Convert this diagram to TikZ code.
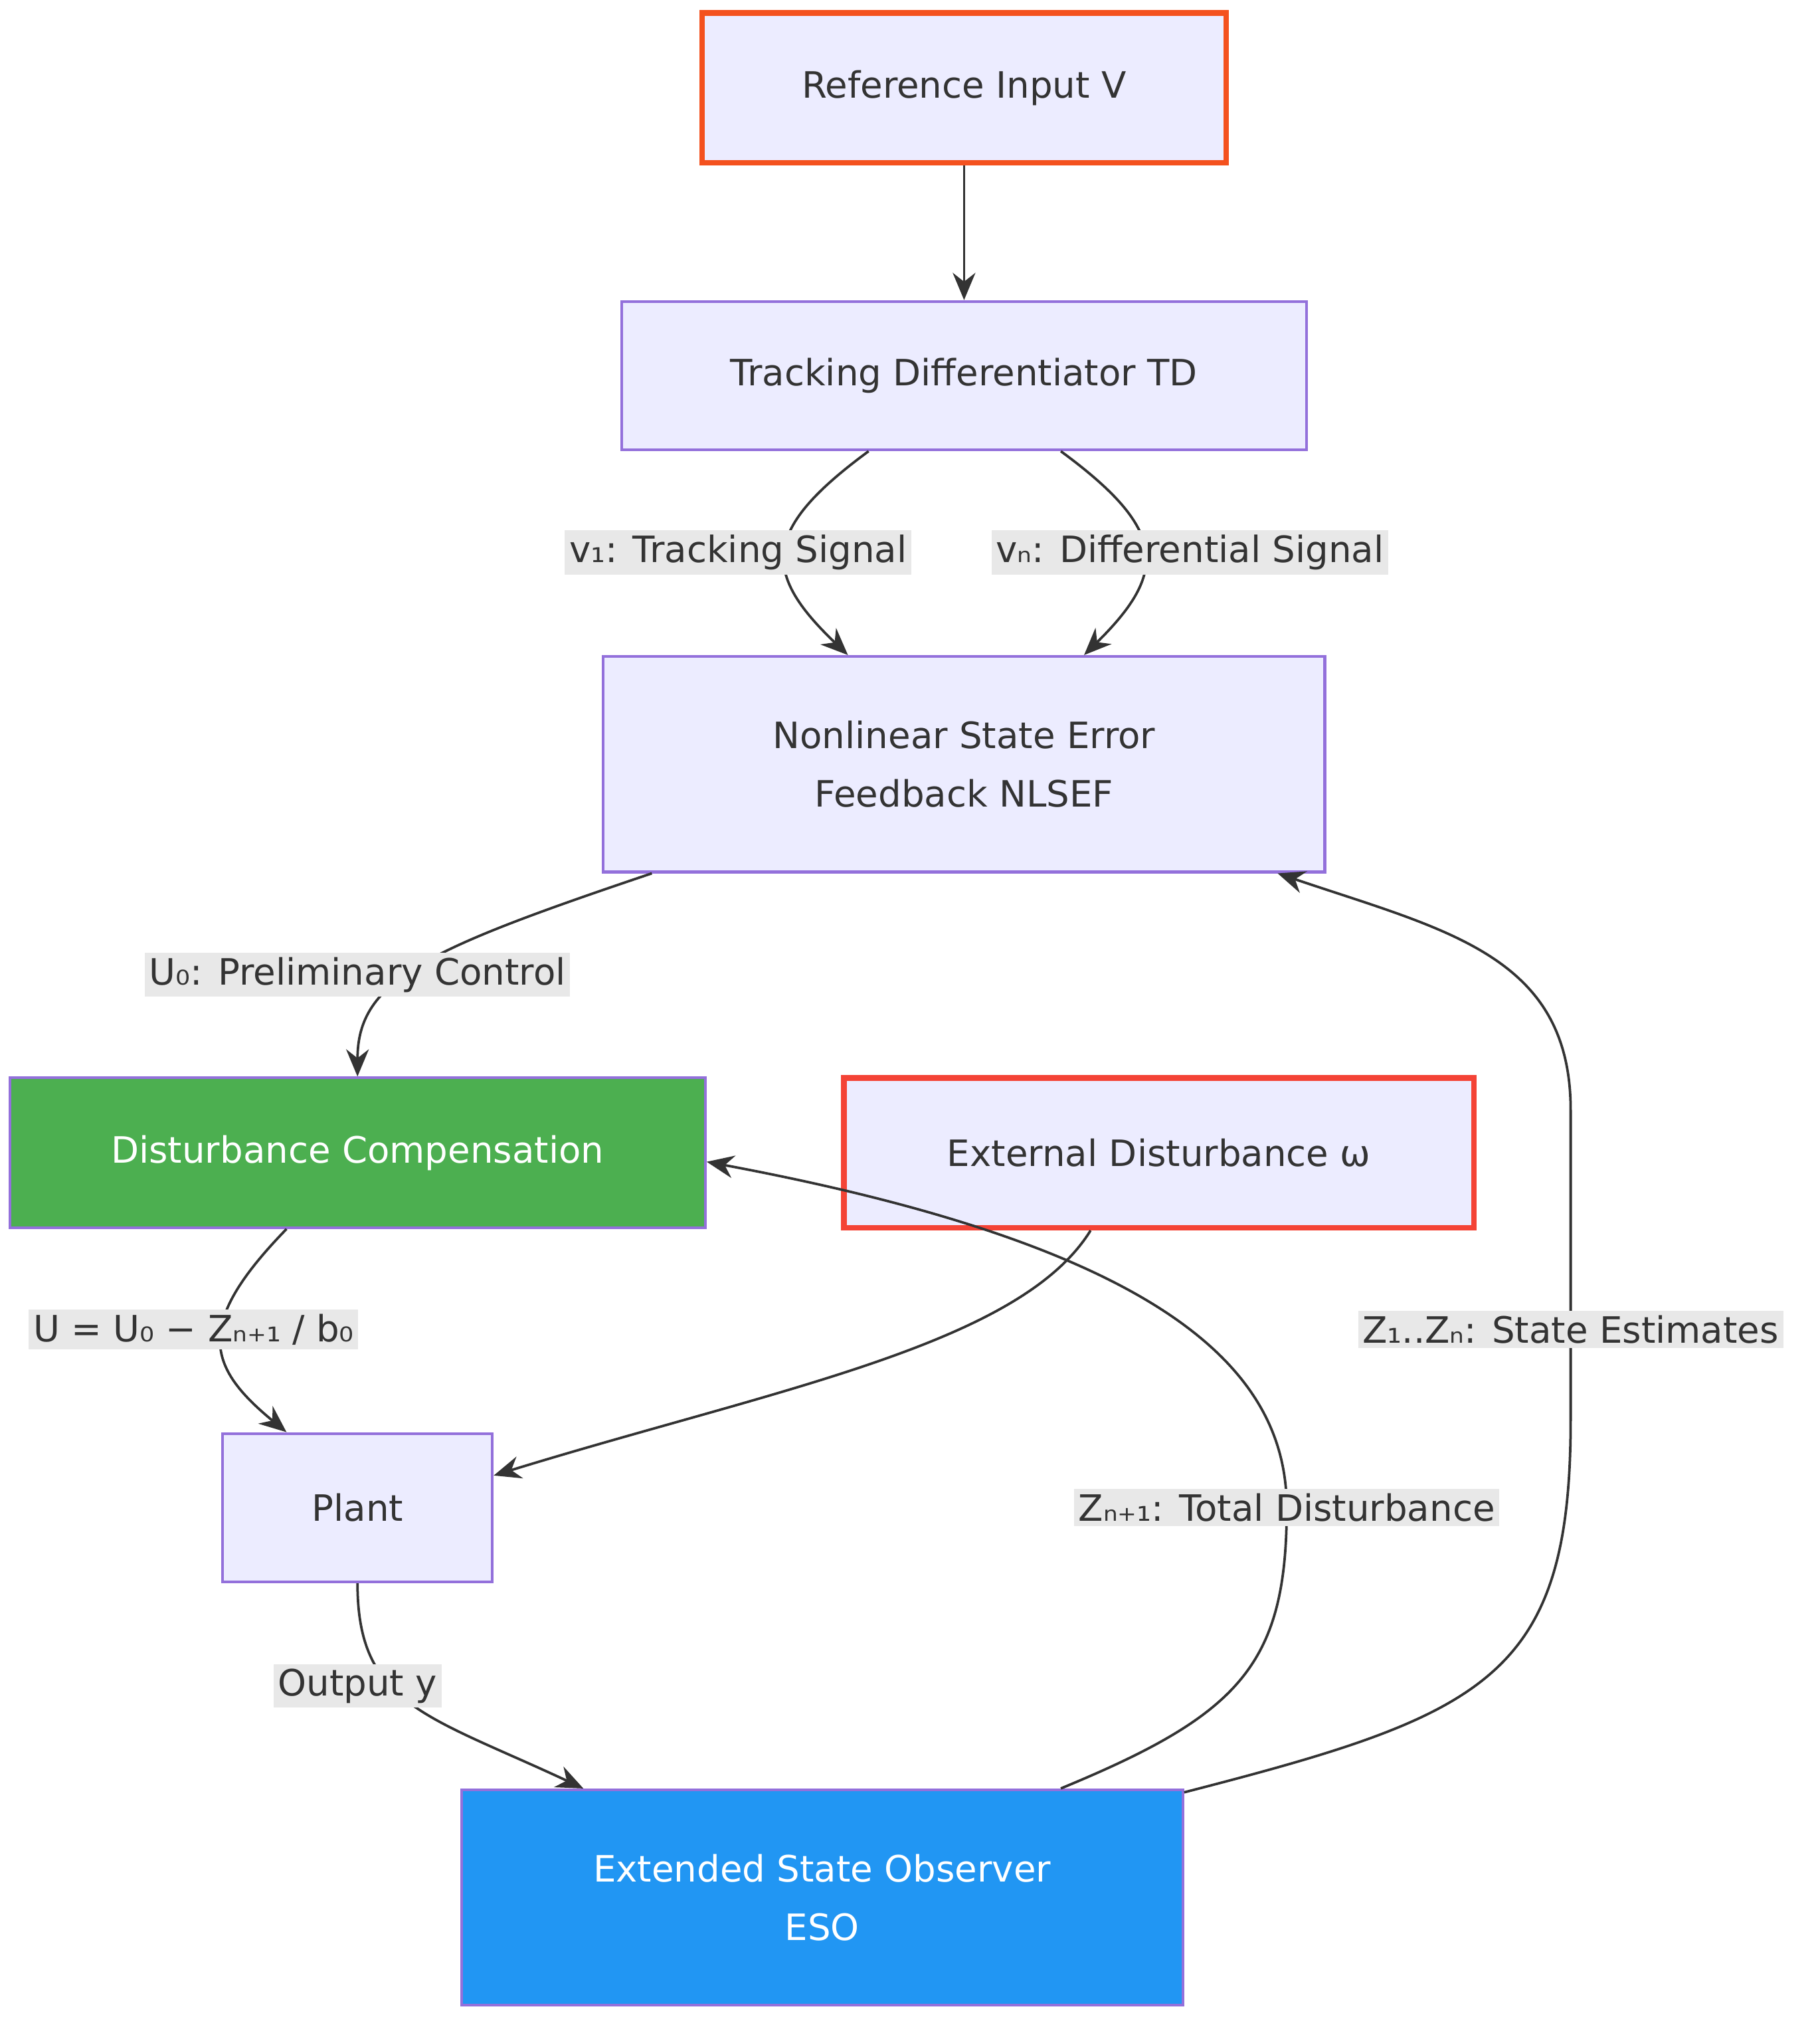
\documentclass[tikz,border=0pt]{standalone}
\usepackage{fontspec}
\setmainfont{DejaVu Sans}
\usetikzlibrary{arrows.meta}
\definecolor{nfill}{HTML}{ECECFF}
\definecolor{nbord}{HTML}{9370DB}
\definecolor{edge}{HTML}{333333}
\definecolor{lbl}{HTML}{E8E8E8}
\definecolor{gfill}{HTML}{4CAF50}
\definecolor{bfill}{HTML}{2196F3}
\definecolor{obord}{HTML}{F4511E}
\definecolor{rbord}{HTML}{F44336}
\begin{document}
\begin{tikzpicture}[x=0.02cm,y=-0.02cm,
 box/.style={draw=nbord,fill=nfill,line width=1.2pt,text=edge,align=center,inner sep=0pt,font=\fontsize{16}{26}\selectfont},
 lab/.style={fill=lbl,text=edge,inner sep=2pt,font=\fontsize{16}{20}\selectfont},
 ar/.style={draw=edge,line width=1.1pt,-{Stealth[length=12pt,width=10pt]}}]
\useasboundingbox (0,0) rectangle (1410,1578);
\node[box,draw=obord,line width=2.5pt,minimum width=406*0.02cm,minimum height=116*0.02cm] (ref) at (747,68) {Reference Input V};
\node[box,minimum width=531*0.02cm,minimum height=115*0.02cm] (td) at (747,291) {Tracking Differentiator TD};
\node[box,minimum width=559*0.02cm,minimum height=167*0.02cm] (nl) at (747,592) {Nonlinear State Error\\Feedback NLSEF};
\node[box,fill=gfill,text=white,minimum width=539*0.02cm,minimum height=116*0.02cm] (dc) at (277,893) {Disturbance Compensation};
\node[box,draw=rbord,line width=2.5pt,minimum width=488*0.02cm,minimum height=116*0.02cm] (ed) at (898,893) {External Disturbance ω};
\node[box,minimum width=209*0.02cm,minimum height=115*0.02cm] (pl) at (277,1168) {Plant};
\node[box,fill=bfill,text=white,minimum width=559*0.02cm,minimum height=167*0.02cm] (eso) at (637,1470) {Extended State Observer\\ESO};

\draw[ar] (ref) -- (td);
\draw[ar] ([xshift=-1.48cm]td.south) .. controls +(-83,61) and +(-67,-64) .. ([xshift=-1.8cm]nl.north);
\draw[ar] ([xshift=1.5cm]td.south) .. controls +(83,61) and +(65,-64) .. ([xshift=1.86cm]nl.north);
\draw[ar] ([xshift=-4.84cm]nl.south) .. controls +(-175,59) and +(0,-75) .. (dc.north);
\draw[ar] ([xshift=-1.1cm]dc.south) .. controls +(-72,74) and +(-62,-51) .. ([xshift=-1.1cm]pl.north);
\draw[ar] ([xshift=-1.06cm]ed.south) .. controls +(-55,89) and +(218,-67) .. ([yshift=0.5cm]pl.east);
\draw[ar] (pl.south) .. controls +(0,94) and +(-122,-57) .. ([xshift=-3.7cm]eso.north);
\draw[ar] ([xshift=3.7cm]eso.north) .. controls +(138,-57) and +(0,122) .. (997,1168) coordinate (k1) .. controls +(0,-108) and +(353,66) .. ([yshift=-0.14cm]dc.east);
\draw[ar] ([yshift=-0.06cm]eso.north east) .. controls +(233,-60) and +(0,200) .. (1217,1100) coordinate (k2) -- (1217,860) .. controls +(0,-120) and +(130,44) .. ([xshift=4.86cm]nl.south);

\node[lab] (l1) at (572,428) {v₁: Tracking Signal};
\node[lab] (l2) at (922,428) {vₙ: Differential Signal};
\node[lab] (l3) at (277,755) {U₀: Preliminary Control};
\node[lab] (l4) at (150,1030) {U = U₀ − Zₙ₊₁ / b₀};
\node[lab] (l5) at (277,1306) {Output y};
\node[lab] (l6) at (997,1168) {Zₙ₊₁: Total Disturbance};
\node[lab] (l7) at (1217,1030) {Z₁..Zₙ: State Estimates};
\end{tikzpicture}
\end{document}
